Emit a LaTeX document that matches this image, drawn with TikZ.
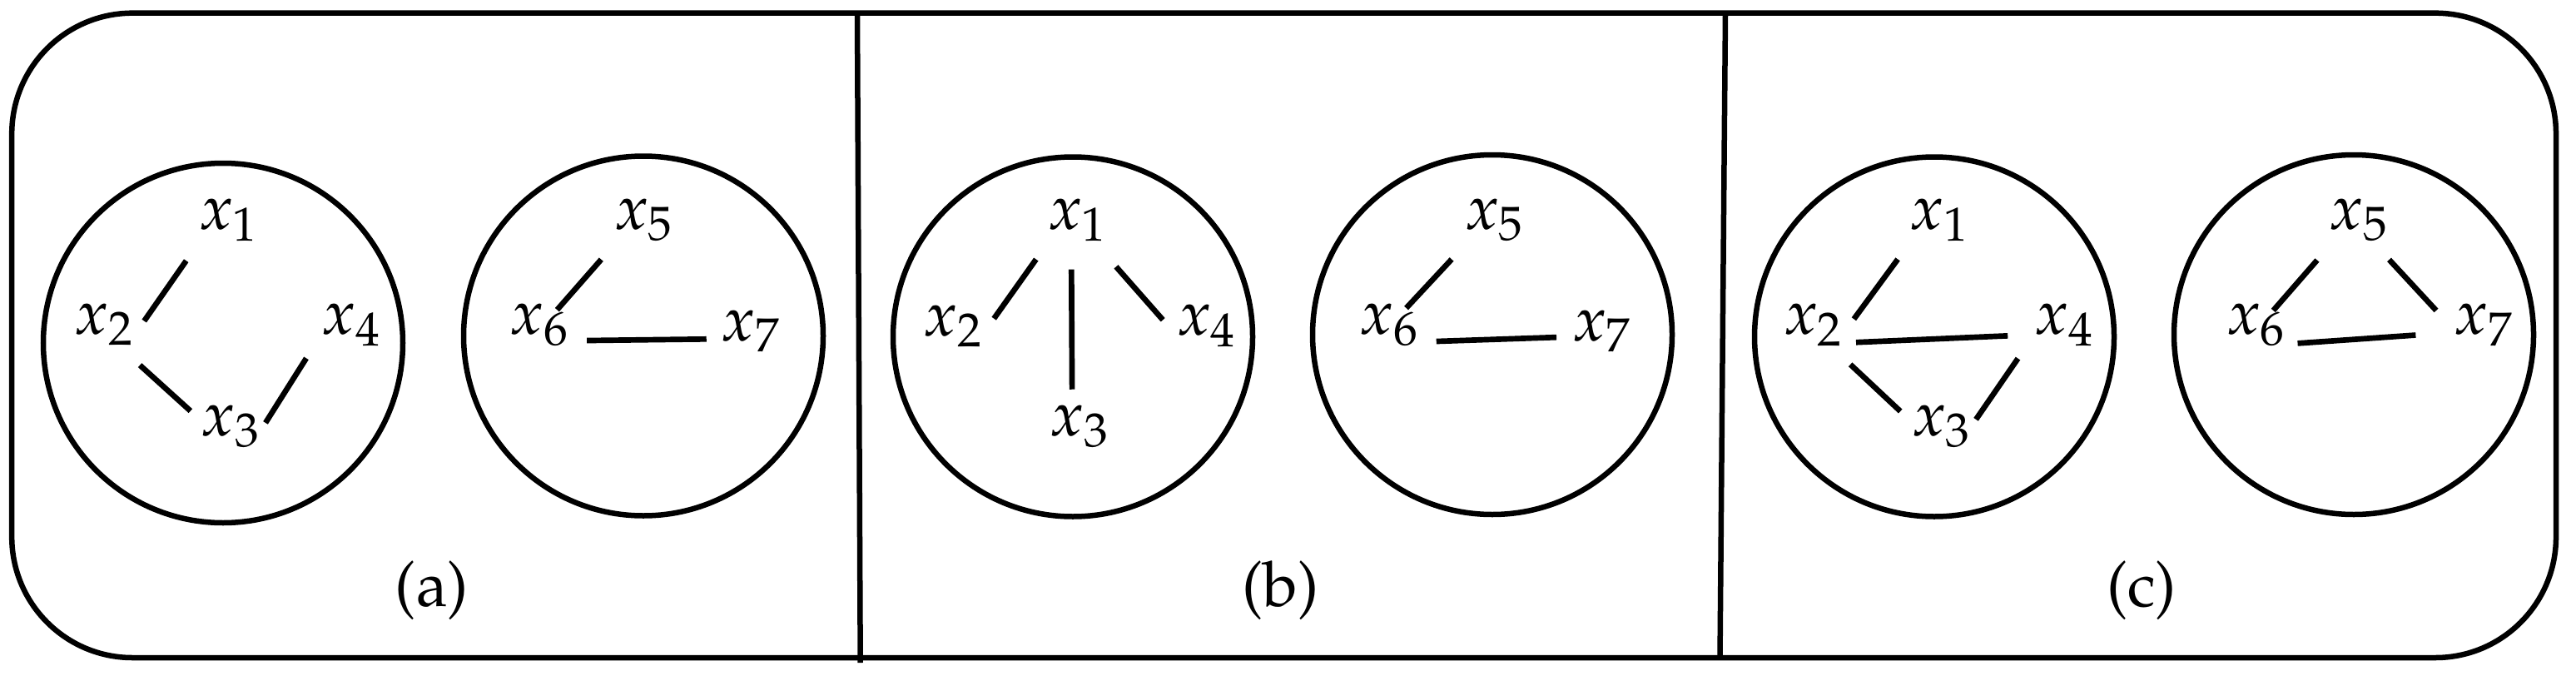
\documentclass[tikz,border=0pt]{standalone}
\usepackage[T1]{fontenc}
\usepackage{mathpazo}

\tikzset{
    vert/.style={circle,minimum size=1.2cm,inner sep=0pt,outer sep=0pt,font=\fontsize{21.5}{26}\selectfont},
    link/.style={line width=1.9pt},
    blob/.style={line width=1.85pt},
    tag/.style={font=\fontsize{21.5}{26}\selectfont}
}

\begin{document}
\begin{tikzpicture}
    \useasboundingbox (0,0) rectangle (30.95,-8.11);

    % Frame and dividers
    \draw[line width=1.85pt,rounded corners=1.45cm] (0.142,-0.157) rectangle (30.71,-7.90);
    \draw[line width=1.85pt] (10.30,-0.157) -- (10.337,-7.96);
    \draw[line width=1.85pt] (20.73,-0.157) -- (20.665,-7.90);

    % Panel (a)
    \draw[blob] (2.68,-4.12) circle (2.16);
    \draw[blob] (7.73,-4.035) circle (2.16);
    \node[vert] (a1) at (2.746,-2.64) {$x_1$};
    \node[vert] (a2) at (1.25,-3.90) {$x_2$};
    \node[vert] (a3) at (2.77,-5.12) {$x_3$};
    \node[vert] (a4) at (4.22,-3.90) {$x_4$};
    \node[vert] (a5) at (7.735,-2.64) {$x_5$};
    \node[vert] (a6) at (6.48,-3.905) {$x_6$};
    \node[vert] (a7) at (9.02,-3.98) {$x_7$};
    \draw[link,shorten <=1.1mm,shorten >=-1.6mm] (a1.222) -- (a2.17);
    \draw[link,shorten <=0.5mm,shorten >=-0.9mm] (a2.311) -- (a3.156);
    \draw[link,shorten <=-2.4mm,shorten >=0.8mm] (a3.24) -- (a4.214);
    \draw[link,shorten <=1mm,shorten >=-3.2mm] (a5.222) -- (a6.45);
    \draw[link,shorten >=-0.6mm] (a6.342) -- (a7.189);
    \node[tag] (taga) at (5.19,-7.086) {(a)};

    % Panel (b)
    \draw[blob] (12.89,-4.045) circle (2.16);
    \draw[blob] (17.93,-4.02) circle (2.16);
    \node[vert] (b1) at (12.946,-2.64) {$x_1$};
    \node[vert] (b2) at (11.45,-3.916) {$x_2$};
    \node[vert] (b3) at (12.974,-5.12) {$x_3$};
    \node[vert] (b4) at (14.497,-3.91) {$x_4$};
    \node[vert] (b5) at (17.955,-2.64) {$x_5$};
    \node[vert] (b6) at (16.69,-3.905) {$x_6$};
    \node[vert] (b7) at (19.246,-3.98) {$x_7$};
    \draw[link,shorten <=0.9mm,shorten >=-1.3mm] (b1.222) -- (b2.19);
    \draw[link,shorten >=-1.5mm] (b1.263) -- (b3.99);
    \draw[link,shorten <=1.3mm,shorten >=-0.9mm] (b1.309) -- (b4.167);
    \draw[link,shorten <=1mm,shorten >=-3.1mm] (b5.222) -- (b6.46);
    \draw[link,shorten >=-0.5mm] (b6.341) -- (b7.187);
    \node[tag] (tagb) at (15.387,-7.086) {(b)};

    % Panel (c)
    \draw[blob] (23.24,-4.045) circle (2.16);
    \draw[blob] (28.28,-4.02) circle (2.16);
    \node[vert] (c1) at (23.30,-2.64) {$x_1$};
    \node[vert] (c2) at (21.786,-3.905) {$x_2$};
    \node[vert] (c3) at (23.326,-5.12) {$x_3$};
    \node[vert] (c4) at (24.799,-3.905) {$x_4$};
    \node[vert] (c5) at (28.344,-2.64) {$x_5$};
    \node[vert] (c6) at (27.105,-3.905) {$x_6$};
    \node[vert] (c7) at (29.844,-3.905) {$x_7$};
    \draw[link,shorten <=0.9mm,shorten >=-1.4mm] (c1.222) -- (c2.18);
    \draw[link,shorten <=-0.5mm,shorten >=0.9mm] (c2.340) -- (c4.192);
    \draw[link,shorten <=0.5mm,shorten >=-0.8mm] (c2.313) -- (c3.157);
    \draw[link,shorten <=-2.2mm,shorten >=0.9mm] (c3.26) -- (c4.213);
    \draw[link,shorten <=1mm,shorten >=-3.3mm] (c5.223) -- (c6.45);
    \draw[link] (c5.307) -- (c7.163);
    \draw[link,shorten <=-0.6mm,shorten >=2.3mm] (c6.339) -- (c7.190);
    \node[tag] (tagc) at (25.73,-7.086) {(c)};
\end{tikzpicture}
\end{document}
